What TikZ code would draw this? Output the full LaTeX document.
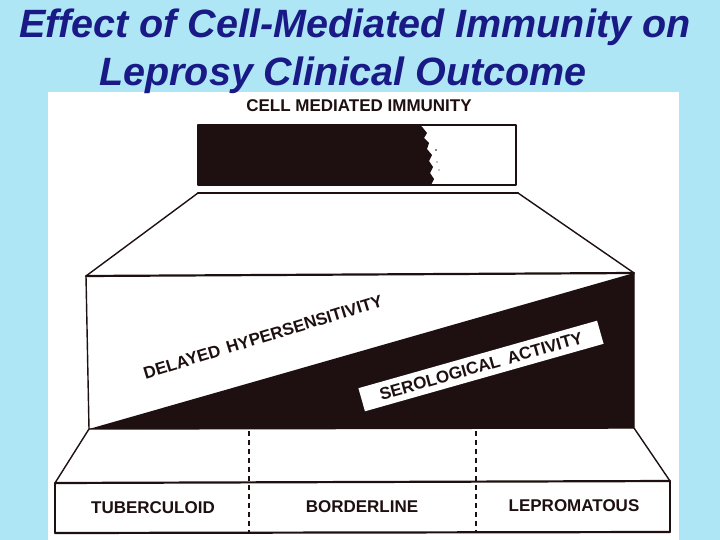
\documentclass[tikz,border=0pt]{standalone}
\usepackage{fontspec}
\setmainfont{Liberation Sans}
\definecolor{bgblue}{RGB}{174,230,245}
\definecolor{titleblue}{RGB}{26,26,135}
\definecolor{ink}{RGB}{30,16,16}
\begin{document}
\begin{tikzpicture}[x=1pt,y=-1pt,
  titletext/.style={font=\fontsize{39.5}{40}\selectfont\bfseries\itshape, text=titleblue, inner sep=0pt, anchor=base},
  lbl/.style={font=\fontsize{17}{17}\selectfont\bfseries, text=ink, inner sep=0pt},
  edge/.style={draw=ink, line width=1.4pt, line join=round},
  thickedge/.style={draw=ink, line width=2.2pt, line cap=round},
  dashline/.style={draw=ink, line width=1.5pt, dash pattern=on 5pt off 4pt}]
\useasboundingbox (0,0) rectangle (720,540);
\fill[bgblue] (0,0) rectangle (720,540);
\fill[white] (48,92) rectangle (679,540);

% title
\node[titletext] (t1) at (355,38) {Effect of Cell-Mediated Immunity on};
\node[titletext] (t2) at (343,86) {Leprosy Clinical Outcome};

% top bar
\coordinate (bTL) at (198,125);
\coordinate (bBR) at (516,185);
\fill[ink] (198,125) -- (420,125) -- (423,128) -- (427,133) -- (424,138) -- (429,143)
  -- (427,149) -- (432,155) -- (429,161) -- (433,167) -- (430,173) -- (434,179)
  -- (431,185) -- (198,185) -- cycle;
\fill[ink] (436,150) circle (0.8) (437,162) circle (0.7) (439,170) circle (0.7);
\draw[edge] (bTL) rectangle (bBR);
\node[lbl] (cmi) at (359,106) {CELL MEDIATED IMMUNITY};

% upper trapezoid and main box
\coordinate (tzL) at (198,193);
\coordinate (tzR) at (518,193);
\coordinate (mTL) at (86,276);
\coordinate (mTR) at (634,273);
\coordinate (mBL) at (89,429);
\coordinate (mBR) at (634,428);
\fill[ink] (mBL) -- (mTR) -- (mBR) -- cycle;
\draw[thickedge] (tzL) -- (tzR);
\draw[edge] (tzL) -- (mTL);
\draw[edge] (tzR) -- (mTR);
\draw[thickedge] (mTL) -- (mTR);
\draw[edge] (mTL) -- (mBL) -- (mBR) -- (mTR);

\node[lbl, rotate=17] (dh) at (263,337) {DELAYED\hspace{7pt}HYPERSENSITIVITY};
\node[lbl, fill=white, rotate=15.8, minimum width=248pt, minimum height=24pt] (sero) at (481,366) {SEROLOGICAL\hspace{8pt}ACTIVITY};

% lower trapezoid and bottom strip
\coordinate (sTL) at (55,483);
\coordinate (sTR) at (670,481);
\coordinate (sBL) at (55,533);
\coordinate (sBR) at (670,532);
\draw[edge] (mBL) -- (sTL);
\draw[edge] (mBR) -- (sTR);
\draw[thickedge] (sTL) -- (sTR);
\draw[edge] (sTL) -- (sBL);
\draw[edge] (sTR) -- (sBR);
\draw[thickedge] (sBL) -- (sBR);

\coordinate (d1a) at (249,431);
\coordinate (d1b) at (249,533);
\coordinate (d2a) at (476,431);
\coordinate (d2b) at (476,533);
\draw[dashline] (d1a) -- (d1b);
\draw[dashline] (d2a) -- (d2b);

\node[lbl] (tub) at (153,508) {TUBERCULOID};
\node[lbl] (bor) at (362,507) {BORDERLINE};
\node[lbl] (lep) at (574,506) {LEPROMATOUS};
\end{tikzpicture}
\end{document}
